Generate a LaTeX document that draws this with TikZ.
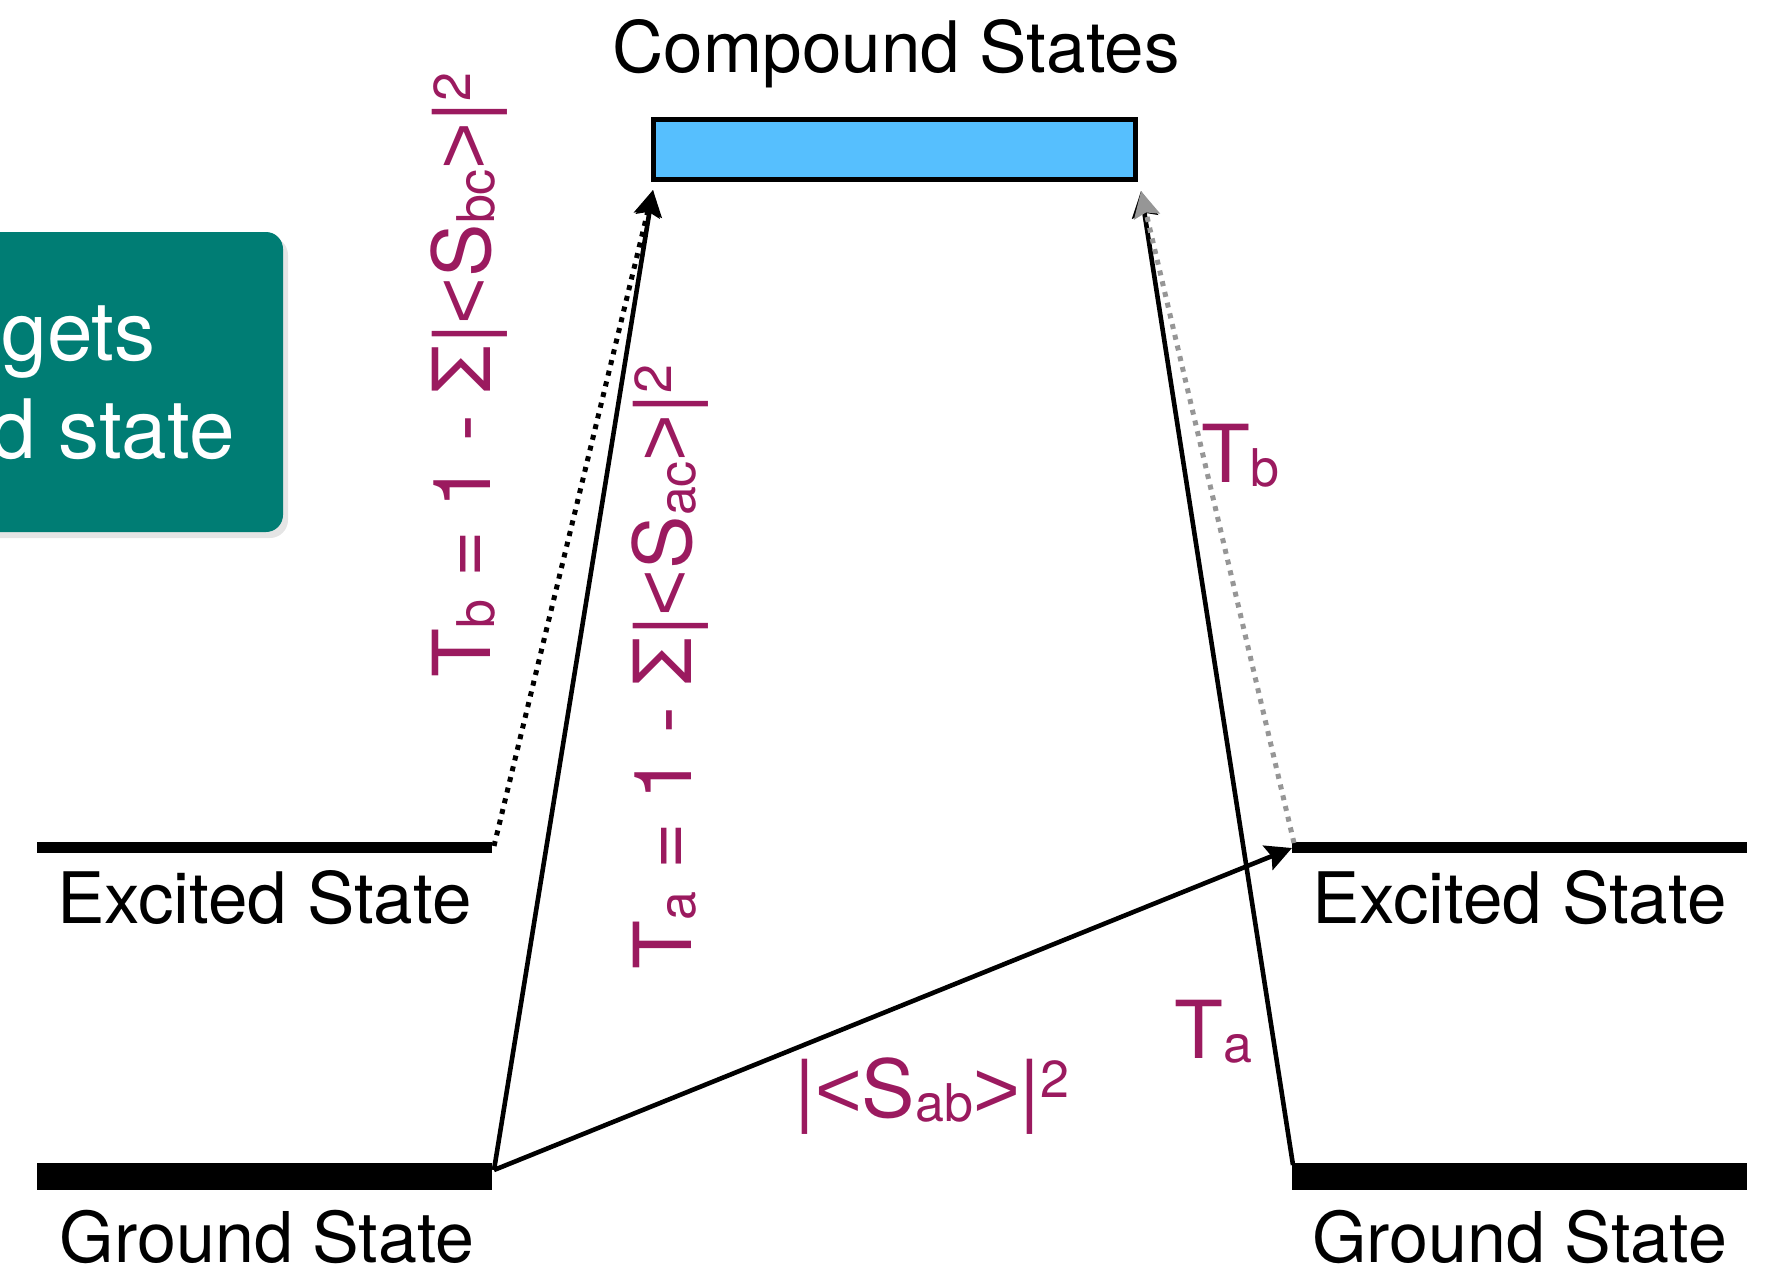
\documentclass[tikz,border=0pt]{standalone}
\usepackage{fontspec}
\setmainfont{TeX Gyre Heros}
\newfontfamily\ltfont{Liberation Sans}
\usetikzlibrary{arrows.meta,calc}
\definecolor{mag}{RGB}{155,26,95}
\definecolor{tealbox}{RGB}{0,125,116}
\definecolor{boxblue}{RGB}{86,191,254}
\definecolor{dotgray}{RGB}{150,150,150}
\newcommand\mysub[1]{\raisebox{-2pt}{\fontsize{26}{26}\selectfont #1}}
\newcommand\mysup[1]{\raisebox{10pt}{\fontsize{26}{26}\selectfont #1}}
\newcommand\mylt{{\ltfont <}}
\newcommand\mygt{{\ltfont >}}
\begin{document}
\begin{tikzpicture}[x=0.5pt,y=-0.5pt,
  lbl/.style={inner sep=0pt, font=\fontsize{35.5}{42}\selectfont},
  glbl/.style={inner sep=0pt, font=\fontsize{35}{42}\selectfont},
  maglbl/.style={inner sep=0pt, text=mag, font=\fontsize{40}{48}\selectfont},
  tealtxt/.style={inner sep=0pt, text=white, font=\fontsize{41}{49}\selectfont, anchor=base east},
  exlevel/.style={line width=5.5pt},
  gnlevel/.style={line width=13.5pt},
  tip/.style={-{Stealth[length=13pt,width=13pt,inset=2pt]}},
  arr/.style={line width=2.3pt, tip},
  dotarr/.style={line width=2.5pt, dash pattern=on 2.5pt off 3pt, tip},
]
\useasboundingbox (0,0) rectangle (1779,1269);
\clip (0,0) rectangle (1779,1269);

% teal box (cut at the left edge)
\fill[black, opacity=0.10, rounded corners=9pt] (-20,237) rectangle (288,538);
\fill[tealbox, rounded corners=8.5pt] (-20,232) rectangle (283,532);
\node[tealtxt] (tg1) at (156,360) {gets};
\node[tealtxt] (tg2) at (235,458) {d state};

% compound states
\node[draw, line width=2.5pt, fill=boxblue, minimum width=241pt, minimum height=30pt, inner sep=0pt] (cs) at (894.5,149.5) {};
\node[lbl, anchor=base] (cst) at (896,72) {Compound States};
\coordinate (tipL) at (653,190);
\coordinate (tipR) at (1141,191);

% levels
\draw[exlevel] (37,847) -- (492,847);
\draw[gnlevel] (37,1176) -- (492,1176);
\draw[exlevel] (1292,847) -- (1747,847);
\draw[gnlevel] (1292,1176) -- (1747,1176);
\coordinate (LEx) at (494,846);
\coordinate (LGn) at (494,1170);
\coordinate (REx) at (1292,848);
\coordinate (RExT) at (1294,843);
\coordinate (RGn) at (1293,1165);

\node[lbl, anchor=base west] (lex) at (57,923) {Excited State};
\node[glbl, anchor=base west] (lgn) at (59.5,1262) {Ground State};
\node[lbl, anchor=base west] (rex) at (1312,923) {Excited State};
\node[glbl, anchor=base west] (rgn) at (1312,1262) {Ground State};

% connectors
\draw[dotarr, black] (LEx) -- (tipL);
\draw[arr] (LGn) -- (tipL);
\draw[arr] (LGn) -- (REx);
\draw[arr] (RGn) -- (tipR);
\draw[dotarr, dotgray] (RExT) -- (tipR);

% labels
\node[maglbl, rotate=90, anchor=base west] (tbl) at (490,678) {T\mysub{b} = 1 - Σ|\mylt S\mysub{bc}\mygt|\mysup{2}};
\node[maglbl, rotate=90, anchor=base west] (tal) at (691,970) {T\mysub{a} = 1 - Σ|\mylt S\mysub{ac}\mygt|\mysup{2}};
\node[maglbl, anchor=base west] (sab) at (794,1117) {|\mylt S\mysub{ab}\mygt|\mysup{2}};
\node[maglbl, anchor=base west] (tbr) at (1201,482) {T\mysub{b}};
\node[maglbl, anchor=base west] (tar) at (1174,1058) {T\mysub{a}};
\end{tikzpicture}
\end{document}
